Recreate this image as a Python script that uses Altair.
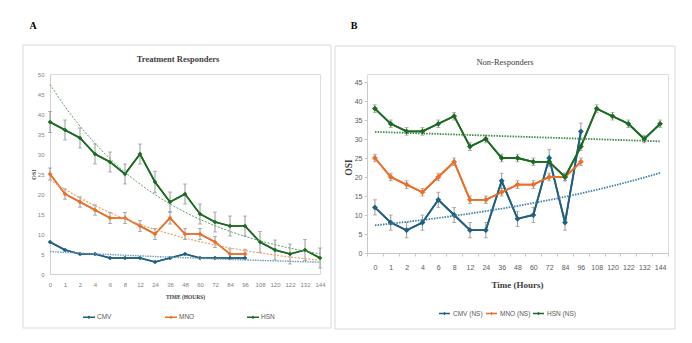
import altair as alt
import pandas as pd

# ---------------- data ----------------
hours = ["0", "1", "2", "4", "6", "8", "12", "24", "36", "48", "60", "72",
         "84", "96", "108", "120", "122", "132", "144"]

series_a = ["CMV", "MNO", "HSN"]
series_b = ["CMV (NS)", "MNO (NS)", "HSN (NS)"]
colors = ["#1f5f80", "#e8702a", "#1c6b22"]

# Panel A - Treatment Responders
a_cmv = [8, 6, 5, 5, 4, 4, 4, 3, 4, 5, 4, 4, 4, 4]
a_mno = [25, 20, 18, 16, 14, 14, 12, 10, 14, 10, 10, 8, 5, 5]
a_hsn = [38, 36, 34, 30, 28, 25, 30, 23, 18, 20, 15, 13, 12, 12, 8, 6, 5, 6, 4]
a_mno_err = [1.5, 1.3, 1.3, 1.3, 1.4, 1.4, 1.4, 1.4, 1.5, 1.4, 1.4, 1.4, 1.3, 1.2]
a_hsn_err = [2.6, 2.5, 2.5, 2.5, 2.5, 2.5, 2.5, 2.7, 2.5, 2.5, 2.5, 2.5, 2.5, 2.5,
             2.6, 2.5, 2.5, 2.6, 2.5]

# Panel B - Non-Responders
b_cmv = [12, 8, 6, 8, 14, 10, 6, 6, 19, 9, 10, 25, 8, 32]
b_mno = [25, 20, 18, 16, 20, 24, 14, 14, 16, 18, 18, 20, 20, 24]
b_hsn = [38, 34, 32, 32, 34, 36, 28, 30, 25, 25, 24, 24, 20, 28, 38, 36, 34, 30, 34]
b_cmv_err = [2, 2, 2, 2, 2, 2, 2, 2, 2, 2, 2, 2.2, 2, 2.2]
b_mno_err = [1, 1, 1, 1, 1, 1, 1, 1, 1, 1, 1, 1, 1, 1]
b_hsn_err = [1, 1, 1, 1, 1, 1, 1, 1, 1, 1, 1, 1, 1, 1, 1, 1, 1, 1, 1]


def long_df(names, values, errors):
    rows = []
    for name, vals, errs in zip(names, values, errors):
        for i, v in enumerate(vals):
            e = errs[i] if errs is not None else 0
            rows.append({"series": name, "idx": i, "hour": hours[i], "v": v,
                         "lo": v - e, "hi": v + e, "err": e})
    return pd.DataFrame(rows)


df_a = long_df(series_a, [a_cmv, a_mno, a_hsn], [None, a_mno_err, a_hsn_err])
df_b = long_df(series_b, [b_cmv, b_mno, b_hsn], [b_cmv_err, b_mno_err, b_hsn_err])
one = pd.DataFrame({"k": [0]})

SANS = "Liberation Sans Narrow, Liberation Sans, sans-serif"
SERIF = "Liberation Serif, serif"
ERR = "#7f7f7f"
LEG_PATH = ("M-1,-0.12L1,-0.12L1,0.12L-1,0.12Z "
            "M0,-0.3L0.3,0L0,0.3L-0.3,0Z")

label_expr = "[" + ",".join("'" + h + "'" for h in hours) + "][datum.value]"


def text_layer(txt, x, y, size, bold=True, angle=0, font=SERIF, color="#000000"):
    kw = dict(text=txt, font=font, fontSize=size, align="center",
              baseline="middle", color=color)
    if bold:
        kw["fontWeight"] = "bold"
    if angle:
        kw["angle"] = angle
    return alt.Chart(one).mark_text(**kw).encode(x=alt.value(x), y=alt.value(y))


def frame(x1, x2, y1, y2):
    return alt.Chart(one).mark_rect(fill="white", fillOpacity=0, stroke="#d9d9d9",
                                    strokeWidth=1).encode(
        x=alt.value(x1), x2=alt.value(x2), y=alt.value(y1), y2=alt.value(y2))


def exp_trend(df, name, X, Y, color, width, dash):
    return (alt.Chart(df)
            .transform_filter(alt.datum.series == name)
            .transform_calculate(ly="log(datum.v)")
            .transform_regression("idx", "ly", method="poly", order=1, extent=[0, 18])
            .transform_calculate(v="exp(datum.ly)")
            .mark_line(color=color, strokeWidth=width, strokeDash=dash)
            .encode(x=X, y=Y))


def lin_trend(df, name, X, Y, color, width, dash):
    return (alt.Chart(df)
            .transform_filter(alt.datum.series == name)
            .transform_regression("idx", "v", method="linear", extent=[0, 18])
            .mark_line(color=color, strokeWidth=width, strokeDash=dash)
            .encode(x=X, y=Y))


# ---------------- Panel A ----------------
WA, HA = 270, 200
ysc_a = alt.Scale(domain=[0, 50], nice=False)
xa = alt.X("idx:Q", scale=alt.Scale(domain=[0, 18], nice=False, zero=False),
           axis=alt.Axis(values=list(range(19)), labelExpr=label_expr, ticks=False,
                         tickSize=0, grid=False, domainColor="#d0d0d0",
                         labelOverlap=False, labelFlush=False,
                         labelFont=SANS, labelFontSize=6, labelColor="#7f7f7f",
                         labelPadding=7, title="TIME (HOURS)", titleFont=SERIF,
                         titleFontSize=5.5, titleFontWeight="bold", titleColor="#404040",
                         titleX=135, titleY=22, titleBaseline="middle",
                         titleAlign="center"))
ax_ya = alt.Axis(values=list(range(0, 51, 5)), ticks=False, tickSize=0, grid=False,
                 labelOverlap=False, labelFlush=False,
                 domainColor="#d0d0d0", labelFont=SANS, labelFontSize=6,
                 labelColor="#7f7f7f", labelPadding=6, title="OSI",
                 titleFont=SERIF, titleFontSize=6, titleFontWeight="bold",
                 titleColor="#404040", titleX=-17, titleY=100,
                 titleAngle=270, titleBaseline="middle", titleAlign="center")
ya = alt.Y("v:Q", scale=ysc_a, axis=ax_ya, title="OSI")
ya_lo = alt.Y("lo:Q", scale=ysc_a, axis=ax_ya, title="OSI")
ya_hi = alt.Y("hi:Q", scale=ysc_a, axis=ax_ya, title="OSI")
leg_a = alt.Legend(orient="none", legendX=33, legendY=237, direction="horizontal",
                   columns=3, gridAlign="all", columnPadding=52, title=None,
                   symbolType=LEG_PATH, symbolSize=144, symbolStrokeWidth=0,
                   labelFont=SANS, labelFontSize=6.5, labelColor="#595959",
                   labelOffset=2, padding=0)
color_a = alt.Color("series:N", scale=alt.Scale(domain=series_a, range=colors), legend=leg_a)

err_a = df_a[df_a["err"] > 0]
base_a = alt.Chart(df_a)
panel_a = alt.layer(
    frame(-27, 281, -29, 254),
    text_layer("A", -17, -48, 10),
    text_layer("Treatment Responders", 128, -15, 8.5, color="#404040"),
    base_a.mark_line(strokeWidth=1.6).encode(x=xa, y=ya, color=color_a),
    alt.Chart(err_a).mark_rule(color=ERR, strokeWidth=0.8).encode(
        x=xa, y=ya_lo, y2="hi:Q"),
    alt.Chart(err_a).mark_tick(orient="horizontal", color=ERR, size=4, thickness=0.8).encode(
        x=xa, y=ya_lo),
    alt.Chart(err_a).mark_tick(orient="horizontal", color=ERR, size=4, thickness=0.8).encode(
        x=xa, y=ya_hi),
    base_a.mark_line(strokeWidth=1.6).encode(x=xa, y=ya, color=color_a),
    base_a.mark_point(filled=True, shape="diamond", size=22, opacity=1).encode(
        x=xa, y=ya, color=color_a),
    exp_trend(df_a, "HSN", xa, ya, "#5f9f5f", 1, [2, 1.5]),
    exp_trend(df_a, "MNO", xa, ya, "#f0a06a", 1.2, [2, 1.5]),
    exp_trend(df_a, "CMV", xa, ya, "#6f9bb5", 1.4, [1.5, 1]),
).properties(width=WA, height=HA)

# ---------------- Panel B ----------------
# plot origin shares the row top with panel A; the 45 line sits 8 px lower
WB, HB, TOPB = 301, 179, 8
ysc_b = alt.Scale(domain=[0, 45], nice=False, range=[HB, TOPB])
xb = alt.X("idx:Q", scale=alt.Scale(domain=[-0.5, 18.5], nice=False, zero=False), axis=None)
xb_axis = alt.X("hour:N", sort=hours,
                scale=alt.Scale(type="band", domain=hours, paddingInner=0, paddingOuter=0),
                axis=alt.Axis(tickBand="extent", ticks=True, tickSize=3, tickColor="#c8c8c8",
                              domainColor="#c8c8c8", grid=False, labelAngle=0,
                              labelOverlap=False, labelFlush=False,
                              labelFont=SANS, labelFontSize=7, labelColor="#595959",
                              labelPadding=7, title="Time (Hours)", titleFont=SERIF,
                              titleFontSize=9, titleFontWeight="bold", titleColor="#404040",
                              titleX=150, titleY=31, titleBaseline="middle",
                              titleAlign="center"))
ax_yb = alt.Axis(values=list(range(0, 46, 5)), ticks=True, tickSize=3,
                 labelOverlap=False, labelFlush=False,
                 tickColor="#c8c8c8", grid=False, domainColor="#c8c8c8",
                 labelFont=SANS, labelFontSize=7, labelColor="#595959",
                 labelPadding=2, title="OSI", titleFont=SERIF, titleFontSize=9.5,
                 titleFontWeight="bold", titleColor="#404040", titleX=-19,
                 titleY=93, titleAngle=270, titleBaseline="middle",
                 titleAlign="center")
yb = alt.Y("v:Q", scale=ysc_b, axis=ax_yb, title="OSI")
yb_lo = alt.Y("lo:Q", scale=ysc_b, axis=ax_yb, title="OSI")
yb_hi = alt.Y("hi:Q", scale=ysc_b, axis=ax_yb, title="OSI")
leg_b = alt.Legend(orient="none", legendX=72, legendY=234, direction="horizontal",
                   columns=3, gridAlign="all", columnPadding=2, title=None,
                   symbolType=LEG_PATH, symbolSize=121, symbolStrokeWidth=0,
                   labelFont=SANS, labelFontSize=6.5, labelColor="#595959",
                   labelOffset=3, padding=0)
color_b = alt.Color("series:N", scale=alt.Scale(domain=series_b, range=colors), legend=leg_b)

base_b = alt.Chart(df_b)
panel_b = alt.layer(
    frame(-32, 308, -28, 255),
    text_layer("B", -13, -48, 10),
    text_layer("Non-Responders", 138, -12, 8.5, bold=False, color="#404040"),
    base_b.mark_point(opacity=0).encode(x=xb_axis),
    base_b.mark_line(strokeWidth=1.8).encode(x=xb, y=yb, color=color_b),
    base_b.mark_rule(color=ERR, strokeWidth=0.8).encode(x=xb, y=yb_lo, y2="hi:Q"),
    base_b.mark_tick(orient="horizontal", color=ERR, size=4, thickness=0.8).encode(
        x=xb, y=yb_lo),
    base_b.mark_tick(orient="horizontal", color=ERR, size=4, thickness=0.8).encode(
        x=xb, y=yb_hi),
    base_b.mark_line(strokeWidth=1.8).encode(x=xb, y=yb, color=color_b),
    base_b.mark_point(filled=True, shape="diamond", size=34, opacity=1).encode(
        x=xb, y=yb, color=color_b),
    lin_trend(df_b, "HSN (NS)", xb, yb, "#3f8a45", 1.8, [1.5, 1.2]),
    exp_trend(df_b, "CMV (NS)", xb, yb, "#3f7fa5", 1.8, [1.5, 1.2]),
).resolve_scale(x="independent").properties(width=WB, height=HB)

chart = alt.hconcat(panel_a, panel_b, spacing=2).resolve_scale(
    color="independent", y="independent", x="independent"
).resolve_legend(color="independent").properties(
    padding={"left": 22, "top": 20, "right": 5, "bottom": 5}
).configure_view(stroke=None).configure(background="white")

chart.save("out.html", embed_options={"renderer": "svg", "actions": False})
